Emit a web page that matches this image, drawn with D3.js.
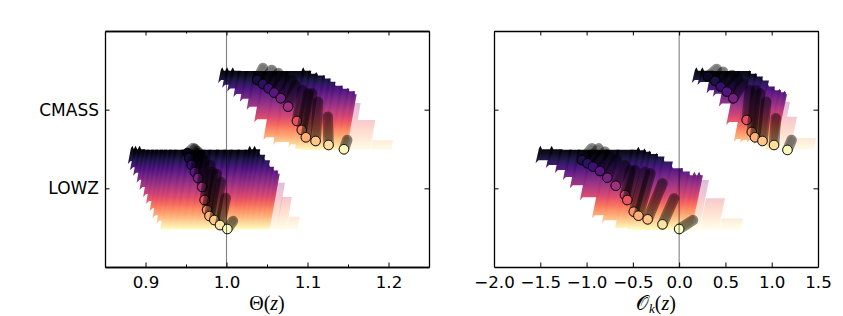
<!DOCTYPE html>
<html>
<head>
<meta charset="utf-8">
<script src="https://cdn.jsdelivr.net/npm/d3@7"></script>
<style>
body { margin: 0; background: #fff; }
text { font-family: "DejaVu Sans", sans-serif; fill: #000; }
.domain { stroke-width: 1.3; }
</style>
</head>
<body>
<div id="chart"></div>
<script>
// sample names on the y axis (position = index)
const samples = ['LOWZ', 'CMASS'];

const thetaTicks = [0.9, 1.0, 1.1, 1.2];
const thetaMinorTicks = [0.95, 1.05, 1.15];
const okTicks = [-2.0, -1.5, -1.0, -0.5, 0.0, 0.5, 1.0, 1.5];

// Theta(z), LOWZ: column edges, column top and bottom (offset from the sample row)
const thetaLowzEdges = [0.882, 0.886, 0.891, 0.896, 0.901, 0.907, 0.912, 0.918, 0.923, 0.929, 0.935, 0.944, 0.952, 0.961, 0.970, 0.978, 0.987, 0.996, 1.004, 1.013, 1.022, 1.027, 1.033, 1.038, 1.044, 1.050, 1.055, 1.060, 1.062, 1.0685, 1.077, 1.087];
const thetaLowzTops = [0.54, 0.54, 0.54, 0.49, 0.49, 0.49, 0.49, 0.49, 0.49, 0.49, 0.49, 0.49, 0.49, 0.49, 0.49, 0.49, 0.49, 0.49, 0.49, 0.49, 0.49, 0.54, 0.54, 0.47, 0.40, 0.32, 0.27, 0.23, 0.07, -0.11, -0.36];
const thetaLowzBottoms = [0.31, 0.23, 0.16, 0.07, -0.02, -0.11, -0.20, -0.29, -0.38, -0.45, -0.52, -0.52, -0.52, -0.52, -0.52, -0.52, -0.52, -0.52, -0.52, -0.52, -0.52, -0.52, -0.52, -0.52, -0.52, -0.52, -0.52, -0.52, -0.52, -0.52, -0.52];
const thetaLowzDotX = [0.952, 0.954, 0.957, 0.961, 0.965, 0.970, 0.973, 0.976, 0.979, 0.985, 0.992, 1.001];
const thetaLowzDotY = [0.449, 0.385, 0.296, 0.207, 0.131, 0.017, -0.149, -0.276, -0.352, -0.403, -0.467, -0.517];
const thetaLowzTailX = [0.959, 0.961, 0.964, 0.966, 0.970, 0.973, 0.980, 0.983, 0.988, 0.993, 0.999, 1.008];
const thetaLowzTailY = [0.512, 0.50, 0.474, 0.449, 0.398, 0.36, 0.296, 0.207, 0.182, 0.08, -0.123, -0.416];

// Theta(z), CMASS
const thetaCmassEdges = [0.993, 0.999, 1.006, 1.014, 1.023, 1.033, 1.045, 1.060, 1.073, 1.093, 1.101, 1.109, 1.118, 1.125, 1.131, 1.140, 1.148, 1.155, 1.157, 1.162, 1.180, 1.202];
const thetaCmassTops = [0.54, 0.54, 0.54, 0.49, 0.49, 0.49, 0.49, 0.49, 0.49, 0.54, 0.50, 0.48, 0.44, 0.40, 0.35, 0.31, 0.28, 0.24, 0.085, -0.13, -0.39];
const thetaCmassBottoms = [0.34, 0.28, 0.23, 0.16, 0.10, 0.0, -0.16, -0.39, -0.45, -0.48, -0.50, -0.51, -0.51, -0.51, -0.51, -0.51, -0.51, -0.51, -0.51, -0.51, -0.51];
const thetaCmassDotX = [1.038, 1.045, 1.052, 1.059, 1.067, 1.076, 1.087, 1.093, 1.098, 1.110, 1.126, 1.145];
const thetaCmassDotY = [0.378, 0.327, 0.272, 0.216, 0.145, 0.038, -0.144, -0.258, -0.351, -0.398, -0.449, -0.503];
const thetaCmassTailX = [1.045, 1.056, 1.064, 1.072, 1.081, 1.085, 1.094, 1.101, 1.106, 1.113, 1.125, 1.149];
const thetaCmassTailY = [0.53, 0.505, 0.466, 0.419, 0.378, 0.314, 0.25, 0.208, 0.208, 0.102, -0.089, -0.385];

// O_k(z), LOWZ
const okLowzEdges = [-1.514, -1.392, -1.291, -1.19, -1.097, -0.963, -0.794, -0.676, -0.524, -0.455, -0.39, -0.336, -0.26, -0.19, -0.10, 0.01, 0.085, 0.15, 0.20, 0.225, 0.29, 0.463, 0.657];
const okLowzTops = [0.54, 0.54, 0.49, 0.49, 0.49, 0.49, 0.49, 0.49, 0.49, 0.53, 0.51, 0.48, 0.45, 0.385, 0.30, 0.26, 0.21, 0.21, 0.21, 0.105, -0.125, -0.38];
const okLowzBottoms = [0.32, 0.26, 0.195, 0.105, 0.0, -0.15, -0.38, -0.445, -0.505, -0.50, -0.52, -0.53, -0.53, -0.53, -0.53, -0.53, -0.53, -0.53, -0.53, -0.53, -0.53, -0.53];
const okLowzDotX = [-1.05, -0.99, -0.93, -0.855, -0.776, -0.685, -0.585, -0.56, -0.49, -0.44, -0.34, -0.18, 0.0];
const okLowzDotY = [0.36, 0.318, 0.275, 0.22, 0.135, 0.033, -0.085, -0.149, -0.297, -0.348, -0.394, -0.458, -0.517];
const okLowzTailX = [-0.945, -0.87, -0.80, -0.745, -0.675, -0.585, -0.525, -0.475, -0.37, -0.31, -0.18, -0.055, 0.15];
const okLowzTailY = [0.508, 0.508, 0.465, 0.402, 0.369, 0.296, 0.233, 0.233, 0.21, 0.19, 0.064, -0.127, -0.403];

// O_k(z), CMASS
const okCmassEdges = [0.171, 0.236, 0.344, 0.42, 0.506, 0.625, 0.744, 0.809, 0.873, 0.938, 1.003, 1.068, 1.122, 1.133, 1.165, 1.241, 1.446];
const okCmassTops = [0.54, 0.54, 0.49, 0.49, 0.49, 0.49, 0.50, 0.465, 0.415, 0.34, 0.29, 0.265, 0.24, 0.10, -0.09, -0.36];
const okCmassBottoms = [0.34, 0.315, 0.21, 0.165, 0.04, -0.195, -0.41, -0.425, -0.425, -0.45, -0.49, -0.51, -0.51, -0.51, -0.51, -0.51];
const okCmassDotX = [0.31, 0.39, 0.45, 0.515, 0.585, 0.73, 0.785, 0.82, 0.90, 1.025, 1.17];
const okCmassDotY = [0.419, 0.365, 0.292, 0.229, 0.145, -0.131, -0.283, -0.351, -0.398, -0.449, -0.512];
const okCmassTailX = [0.405, 0.475, 0.57, 0.635, 0.69, 0.765, 0.83, 0.875, 0.94, 1.045, 1.215];
const okCmassTailY = [0.517, 0.483, 0.441, 0.403, 0.335, 0.25, 0.25, 0.208, 0.102, -0.109, -0.385];

const width = 843, height = 316;
const plotTop = 31, plotBottom = 267;
const FLAT_TOP = 0.49;    // flat upper edge of a band
const FLAT_BOTTOM = -0.5; // bottoms below this are on the flat lower edge
const PALE_COLUMNS = 3;   // the last columns of a band are drawn washed out

const svg = d3.select('#chart').append('svg')
    .attr('width', width)
    .attr('height', height);
const defs = svg.append('defs');

const y = d3.scaleLinear().domain([-1, 2]).range([plotBottom, plotTop]);

// colour inside a band: black at the top, pale yellow at the bottom
const bandColor = d3.scaleLinear().domain([0.49, -0.52]).range([0, 1]).clamp(true);

// one gradient per sample row, in page coordinates so all columns line up
samples.forEach((name, row) => {
    const grad = defs.append('linearGradient')
        .attr('id', 'magma-' + name)
        .attr('gradientUnits', 'userSpaceOnUse')
        .attr('x1', 0).attr('x2', 0)
        .attr('y1', y(row + 0.49))
        .attr('y2', y(row - 0.52));
    d3.range(0, 1.001, 0.05).forEach(p => {
        grad.append('stop')
            .attr('offset', p)
            .attr('stop-color', d3.interpolateMagma(p));
    });
});

function drawBand(g, x, row, edges, tops, bottoms, slant, overlap) {
    const columns = d3.range(tops.length).map(i => {
        const yTop = y(row + tops[i]);
        const yBottom = y(row + bottoms[i]);
        const left = x(edges[i]);
        const w = x(edges[i + 1]) - left + overlap;
        const shift = slant * (yBottom - yTop);
        const pale = i >= tops.length - PALE_COLUMNS;
        // small saw teeth only where the column sticks out of the flat edges
        const fin = (tops[i] === FLAT_TOP || pale) ? 0 : 3.5;
        const tip = (bottoms[i] <= FLAT_BOTTOM || pale) ? 0 : 3;
        return {
            pale: pale,
            points: [
                [left, yTop + fin * 0.7],
                [left + 1.5, yTop],
                [left + 3, yTop + fin],
                [left + w, yTop + fin],
                [left + w - shift, yBottom - tip],
                [left - shift + 3, yBottom - tip],
                [left - shift, yBottom]
            ]
        };
    });
    // pale columns go behind the solid ones
    columns.sort((a, b) => d3.descending(a.pale, b.pale));
    g.append('g').selectAll('path')
        .data(columns)
        .enter()
        .append('path')
        .attr('d', d => 'M' + d.points.join('L') + 'Z')
        .attr('fill', 'url(#magma-' + samples[row] + ')')
        .attr('fill-opacity', d => d.pale ? 0.3 : 0.96);
}

function drawTrack(g, x, row, dotX, dotY, tailX, tailY) {
    const dots = dotX.map((v, i) => ({ x: v, y: dotY[i], tx: tailX[i], ty: tailY[i] }));
    const item = g.append('g').selectAll('g')
        .data(dots)
        .enter()
        .append('g');
    // tail: dark see-through capsule with a darker rim
    item.append('line')
        .attr('x1', d => x(d.x)).attr('y1', d => y(row + d.y))
        .attr('x2', d => x(d.tx)).attr('y2', d => y(row + d.ty))
        .attr('stroke', '#000')
        .attr('stroke-opacity', 0.45)
        .attr('stroke-width', 10.5)
        .attr('stroke-linecap', 'round');
    item.append('line')
        .attr('x1', d => x(d.x)).attr('y1', d => y(row + d.y))
        .attr('x2', d => x(d.tx)).attr('y2', d => y(row + d.ty))
        .attr('stroke', '#000')
        .attr('stroke-opacity', 0.15)
        .attr('stroke-width', 7)
        .attr('stroke-linecap', 'round');
    item.append('circle')
        .attr('cx', d => x(d.x))
        .attr('cy', d => y(row + d.y))
        .attr('r', 4.8)
        .attr('fill', d => d3.interpolateMagma(bandColor(d.y)))
        .attr('stroke', '#000')
        .attr('stroke-opacity', 0.85)
        .attr('stroke-width', 1);
}

function drawPanel(left, right, domain, ticks, minorTicks, showLabels, bands, zero) {
    const x = d3.scaleLinear().domain(domain).range([left, right]);
    const g = svg.append('g');

    bands.forEach(b => {
        drawBand(g, x, b.row, b.edges, b.tops, b.bottoms, b.slant, 3);
    });
    bands.forEach(b => {
        drawTrack(g, x, b.row, b.dotX, b.dotY, b.tailX, b.tailY);
    });

    // reference line
    g.append('line')
        .attr('x1', x(zero)).attr('x2', x(zero))
        .attr('y1', plotTop).attr('y2', plotBottom)
        .attr('stroke', '#000')
        .attr('stroke-opacity', 0.5)
        .attr('stroke-width', 1.1);

    // x axes (the top one only carries the ticks)
    const bottomAxis = d3.axisBottom(x).tickValues(ticks).tickFormat(d3.format('.1f'))
        .tickSizeInner(-4.5).tickSizeOuter(0).tickPadding(9);
    const axisB = g.append('g').attr('transform', `translate(0,${plotBottom})`).call(bottomAxis);
    axisB.selectAll('text').style('font-size', '16.67px');

    const topAxis = d3.axisTop(x).tickValues(ticks).tickFormat('')
        .tickSizeInner(-4.5).tickSizeOuter(0);
    g.append('g').attr('transform', `translate(0,${plotTop})`).call(topAxis);

    if (minorTicks.length) {
        g.append('g').attr('transform', `translate(0,${plotBottom})`)
            .call(d3.axisBottom(x).tickValues(minorTicks).tickFormat('').tickSizeInner(-2.5).tickSizeOuter(0));
        g.append('g').attr('transform', `translate(0,${plotTop})`)
            .call(d3.axisTop(x).tickValues(minorTicks).tickFormat('').tickSizeInner(-2.5).tickSizeOuter(0));
    }

    // y axes
    const leftAxis = d3.axisLeft(y).tickValues([0, 1])
        .tickFormat(showLabels ? (d => samples[d]) : '')
        .tickSizeInner(-4.5).tickSizeOuter(0).tickPadding(6);
    const axisL = g.append('g').attr('transform', `translate(${left},0)`).call(leftAxis);
    axisL.selectAll('text').style('font-size', '17px');

    const rightAxis = d3.axisRight(y).tickValues([0, 1]).tickFormat('')
        .tickSizeInner(-4.5).tickSizeOuter(0);
    g.append('g').attr('transform', `translate(${right},0)`).call(rightAxis);

    return x;
}

const xTheta = drawPanel(105, 429, [0.85, 1.25], thetaTicks, thetaMinorTicks, true, [
    { row: 0, slant: 0.17, edges: thetaLowzEdges, tops: thetaLowzTops, bottoms: thetaLowzBottoms,
      dotX: thetaLowzDotX, dotY: thetaLowzDotY, tailX: thetaLowzTailX, tailY: thetaLowzTailY },
    { row: 1, slant: 0.17, edges: thetaCmassEdges, tops: thetaCmassTops, bottoms: thetaCmassBottoms,
      dotX: thetaCmassDotX, dotY: thetaCmassDotY, tailX: thetaCmassTailX, tailY: thetaCmassTailY }
], 1.0);

const xOk = drawPanel(494, 818, [-2.0, 1.5], okTicks, [], false, [
    { row: 0, slant: 0.2, edges: okLowzEdges, tops: okLowzTops, bottoms: okLowzBottoms,
      dotX: okLowzDotX, dotY: okLowzDotY, tailX: okLowzTailX, tailY: okLowzTailY },
    { row: 1, slant: 0.2, edges: okCmassEdges, tops: okCmassTops, bottoms: okCmassBottoms,
      dotX: okCmassDotX, dotY: okCmassDotY, tailX: okCmassTailX, tailY: okCmassTailY }
], 0.0);

// axis titles, with mixed upright and italic parts
const mathFont = '"Liberation Serif", "DejaVu Serif", serif';
const titleTheta = svg.append('text')
    .attr('x', xTheta(1.05)).attr('y', 310)
    .attr('text-anchor', 'middle')
    .style('font-family', mathFont)
    .style('font-size', '20px');
titleTheta.append('tspan').text('Θ(');
titleTheta.append('tspan').style('font-style', 'italic').text('z');
titleTheta.append('tspan').text(')');

const titleOk = svg.append('text')
    .attr('x', xOk(-0.25)).attr('y', 310)
    .attr('text-anchor', 'middle')
    .style('font-family', mathFont)
    .style('font-size', '20px');
titleOk.append('tspan').text('𝒪');
titleOk.append('tspan').style('font-style', 'italic').style('font-size', '13px').attr('dy', 2.5).text('k');
titleOk.append('tspan').attr('dy', -2.5).text('(');
titleOk.append('tspan').style('font-style', 'italic').text('z');
titleOk.append('tspan').text(')');
</script>
</body>
</html>
